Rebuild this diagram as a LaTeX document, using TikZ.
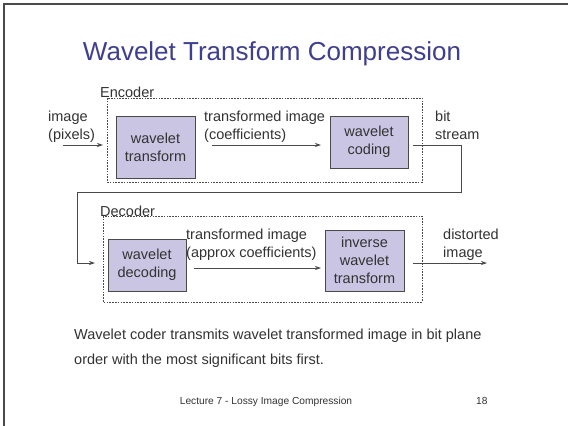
\documentclass[tikz,border=0pt]{standalone}
\usepackage{fontspec}
\setmainfont{Liberation Sans}
\usetikzlibrary{arrows.meta}
\definecolor{titleblue}{HTML}{3F3F8F}
\definecolor{boxfill}{HTML}{C9C5E3}
\definecolor{ink}{HTML}{333333}
\definecolor{linegray}{HTML}{4A4A4A}
\tikzset{
  blk/.style={draw=linegray, line width=0.9pt, fill=boxfill, align=center, inner sep=0pt,
    font=\fontsize{14.5}{18}\selectfont, text=ink},
  lbl/.style={align=left, inner sep=0pt, anchor=base west, font=\fontsize{14.5}{18}\selectfont, text=ink},
  arr/.style={draw=linegray, line width=0.8pt, -{Stealth[length=6pt,width=4pt]}},
  wire/.style={draw=linegray, line width=0.8pt},
  group/.style={draw=linegray, line width=0.8pt, dash pattern=on 1.6pt off 1.2pt}
}
\begin{document}
\begin{tikzpicture}[x=1pt,y=-1pt]
\useasboundingbox (0,0) rectangle (568,426);
\fill[white] (0,0) rectangle (568,426);
% slide frame
\draw[color=linegray, line width=2.2pt] (4,430) -- (4,4) -- (572,4);
% title
\node[anchor=base, inner sep=0pt, text=titleblue, font=\fontsize{26}{30}\selectfont] (title) at (272,60) {Wavelet Transform Compression};
% encoder group
\draw[group] (107,98) rectangle (422,182);
\node[anchor=base west, inner sep=0pt, text=ink, font=\fontsize{14.5}{18}\selectfont] (enc) at (100,97) {Encoder};
% decoder group
\draw[group] (103,216) rectangle (422,302);
\node[anchor=base west, inner sep=0pt, text=ink, font=\fontsize{14.5}{18}\selectfont] (dec) at (100,216) {Decoder};
% blocks
\node[blk, minimum width=79pt, minimum height=62pt] (wt) at (155.5,147) {wavelet\\transform};
\node[blk, minimum width=78pt, minimum height=52pt] (wc) at (369,142) {wavelet\\coding};
\node[blk, minimum width=78pt, minimum height=52pt] (wd) at (147,265) {wavelet\\decoding};
\node[blk, minimum width=79pt, minimum height=61pt] (iwt) at (364.5,260.5) {inverse\\wavelet\\transform};
% labels (anchor = baseline of last line)
\node[lbl] (inlbl) at (48,139) {image\\(pixels)};
\node[lbl] (t1) at (204,139) {transformed image\\(coefficients)};
\node[lbl] (bs) at (435,139) {bit\\stream};
\node[lbl] (t2) at (186,257) {transformed image\\(approx coefficients)};
\node[lbl] (di) at (443,257) {distorted\\image};
% connector endpoints
\coordinate (in0) at (63,145);
\coordinate (in1) at (103,145);
\coordinate (m0) at (212,145);
\coordinate (m1) at (321,145);
\coordinate (o0) at (413,145);
\coordinate (c1) at (461,145);
\coordinate (c2) at (461,192);
\coordinate (c3) at (77,192);
\coordinate (c4) at (77,263);
\coordinate (d1) at (95,263);
\coordinate (n0) at (194,268);
\coordinate (n1) at (321,268);
\coordinate (p0) at (413,263);
\coordinate (p1) at (487,263);
\draw[arr] (in0) -- (in1);
\draw[arr] (m0) -- (m1);
\draw[arr] (o0) -- (c1) -- (c2) -- (c3) -- (c4) -- (d1);
\draw[arr] (n0) -- (n1);
\draw[arr] (p0) -- (p1);
% paragraph
\node[anchor=base west, inner sep=0pt, align=left, text=ink, font=\fontsize{14.5}{25}\selectfont] (para) at (74,364) {Wavelet coder transmits wavelet transformed image in bit plane\\order with the most significant bits first.};
% footer
\node[anchor=base, inner sep=0pt, text=ink, font=\fontsize{10.2}{12}\selectfont] (foot) at (266,404) {Lecture 7 - Lossy Image Compression};
\node[anchor=base west, inner sep=0pt, text=ink, font=\fontsize{10.2}{12}\selectfont] (pg) at (476,404) {18};
\end{tikzpicture}
\end{document}
